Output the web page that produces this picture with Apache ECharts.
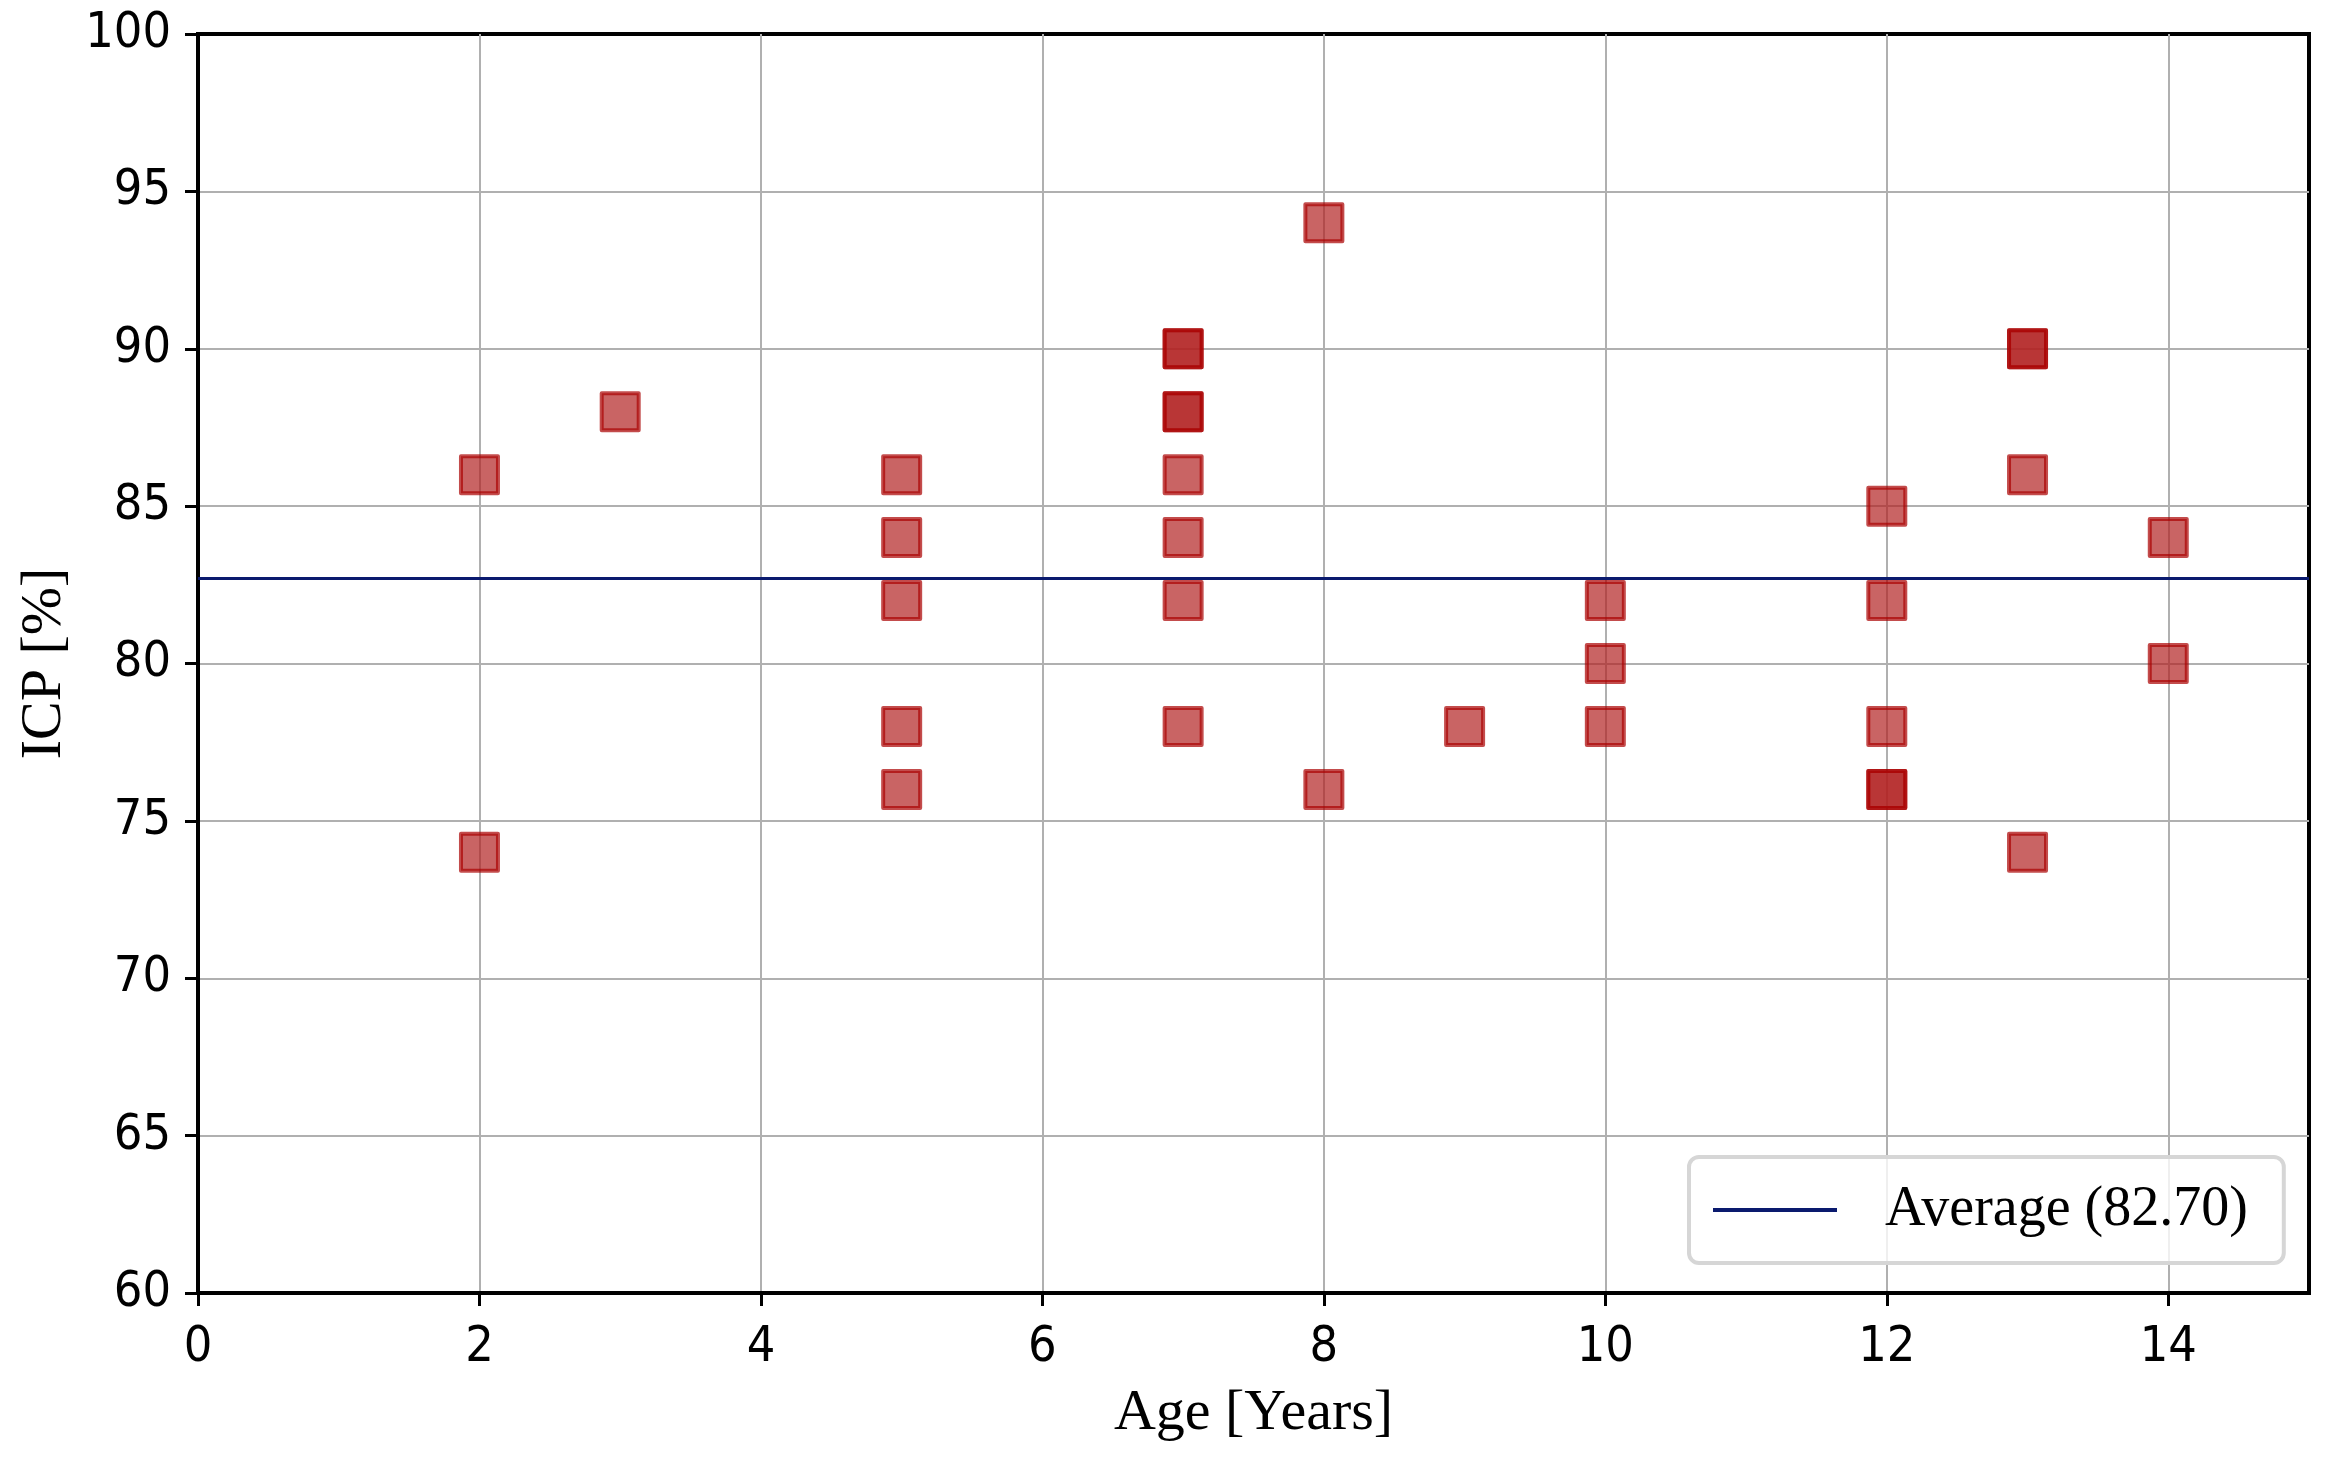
<!DOCTYPE html>
<html>
<head>
<meta charset="utf-8">
<script src="https://cdn.jsdelivr.net/npm/echarts@6/dist/echarts.min.js"></script>
<style>
  html, body { margin: 0; padding: 0; background: #fff; }
  #chart { width: 2337px; height: 1465px; }
</style>
</head>
<body>
<div id="chart"></div>
<script>
// Data (duplicates appear as darker, overlapping squares)
const ages = [2, 2, 3, 5, 5, 5, 5, 5, 7, 7, 7, 7, 7, 7, 7, 7, 8, 8, 9, 10, 10, 10, 12, 12, 12, 12, 12, 13, 13, 13, 13, 14, 14];
const icp  = [86, 74, 88, 86, 84, 82, 78, 76, 90, 90, 88, 88, 86, 84, 82, 78, 94, 76, 78, 82, 80, 78, 85, 82, 78, 76, 76, 90, 90, 86, 74, 84, 80];
const xTicks = [0, 2, 4, 6, 8, 10, 12, 14];
const yTicks = [60, 65, 70, 75, 80, 85, 90, 95, 100];

const average = icp.reduce((a, b) => a + b, 0) / icp.length;
const averageLabel = 'Average (' + average.toFixed(2) + ')';

const tickFont = "'Liberation Sans Narrow', 'DejaVu Sans Condensed', 'Liberation Sans', sans-serif";
const serif = "'Liberation Serif', 'DejaVu Serif', serif";

const chart = echarts.init(document.getElementById('chart'), null, { renderer: 'canvas' });

chart.setOption({
  backgroundColor: '#ffffff',
  animation: false,
  grid: {
    left: 198, right: 2337 - 2309, top: 34, bottom: 1465 - 1293,
    containLabel: false,
    outerBoundsMode: 'none',
    show: true, borderColor: '#000', borderWidth: 4, backgroundColor: 'transparent'
  },
  legend: {
    left: 1689, top: 1157,
    data: [averageLabel],
    icon: 'rect',
    itemWidth: 124, itemHeight: 4,
    padding: [22, 36, 22, 24],
    backgroundColor: 'rgba(255,255,255,0.8)',
    borderColor: '#d6d6d6', borderWidth: 4, borderRadius: 10,
    textStyle: { fontFamily: serif, fontSize: 56, color: '#000', lineHeight: 62, padding: [0, 0, 0, 43] }
  },
  xAxis: {
    type: 'value', min: 0, max: 15, interval: 2,
    name: 'Age [Years]', nameLocation: 'middle', nameGap: 92,
    nameTextStyle: { fontFamily: serif, fontSize: 58, color: '#000' },
    axisLine: { show: true, lineStyle: { color: '#000', width: 4 } },
    axisTick: { show: true, length: 13, lineStyle: { color: '#000', width: 3 } },
    axisLabel: {
      show: true, margin: 30, fontFamily: tickFont, fontSize: 50, color: '#000',
      showMaxLabel: false,
      formatter: v => (xTicks.indexOf(v) >= 0 ? String(v) : '')
    },
    splitLine: { show: true, showMaxLine: false, lineStyle: { color: '#b0b0b0', width: 2 } }
  },
  yAxis: {
    type: 'value', min: 60, max: 100, interval: 5,
    name: 'ICP [%]', nameLocation: 'middle', nameGap: 124, nameRotate: 90,
    nameTextStyle: { fontFamily: serif, fontSize: 58, color: '#000' },
    axisLine: { show: true, lineStyle: { color: '#000', width: 4 } },
    axisTick: { show: true, length: 13, lineStyle: { color: '#000', width: 3 } },
    axisLabel: {
      show: true, margin: 27, fontFamily: tickFont, fontSize: 50, color: '#000',
      formatter: v => (yTicks.indexOf(v) >= 0 ? String(v) : '')
    },
    splitLine: { show: true, showMaxLine: false, lineStyle: { color: '#b0b0b0', width: 2 } }
  },
  series: [
    {
      type: 'scatter',
      name: 'ICP',
      symbol: 'rect',
      symbolSize: 37,
      data: ages.map((a, i) => [a, icp[i]]),
      itemStyle: {
        color: '#b22222',
        borderColor: '#aa0000',
        borderWidth: 4,
        borderJoin: 'round',
        opacity: 0.7
      },
      z: 3
    },
    {
      type: 'line',
      name: averageLabel,
      data: [[0, average], [15, average]],
      showSymbol: false,
      symbol: 'none',
      lineStyle: { color: '#0a1a6e', width: 3 },
      itemStyle: { color: '#0a1a6e' },
      z: 4
    }
  ]
});
</script>
</body>
</html>
